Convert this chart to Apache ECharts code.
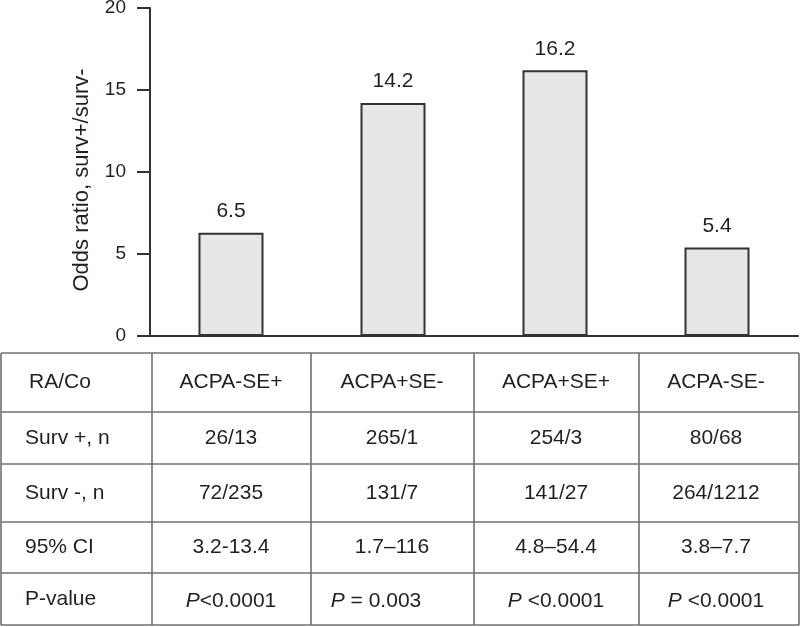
<!DOCTYPE html>
<html>
<head>
<meta charset="utf-8">
<script src="https://cdn.jsdelivr.net/npm/echarts@6/dist/echarts.min.js"></script>
<style>
  html, body { margin: 0; padding: 0; background: #fff; }
  #chart { width: 800px; height: 627px; }
</style>
</head>
<body>
<div id="chart"></div>
<script>
// ---- data ----
const categories = ['ACPA-SE+', 'ACPA+SE-', 'ACPA+SE+', 'ACPA-SE-'];
const oddsRatio = [6.3, 14.2, 16.2, 5.4];
const oddsLabels = ['6.5', '14.2', '16.2', '5.4'];
const yTicks = [0, 5, 10, 15, 20];
const rowHeaders = ['RA/Co', 'Surv +, n', 'Surv -, n', '95% CI', 'P-value'];
const survPos = ['26/13', '265/1', '254/3', '80/68'];
const survNeg = ['72/235', '131/7', '141/27', '264/1212'];
const ci95 = ['3.2-13.4', '1.7–116', '4.8–54.4', '3.8–7.7'];
const pValues = ['<0.0001', ' = 0.003', ' <0.0001', ' <0.0001'];

// ---- layout / style ----
const FONT = "'Liberation Sans', Arial, Helvetica, sans-serif";
const TXT = '#231f20';
const colX = [1, 152, 311, 474, 639, 799];
const rowY = [353, 412, 464, 522, 573, 625];
const colCenters = [231, 392, 556, 716];
const lineColor = '#707070';

const chart = echarts.init(document.getElementById('chart'), null, { renderer: 'canvas' });

const graphics = [];
// table lines
rowY.forEach(function (y) {
  graphics.push({ type: 'line', shape: { x1: colX[0], y1: y, x2: colX[colX.length - 1], y2: y },
    style: { stroke: lineColor, lineWidth: 1.6 }, silent: true });
});
colX.forEach(function (x) {
  graphics.push({ type: 'line', shape: { x1: x, y1: rowY[0], x2: x, y2: rowY[rowY.length - 1] },
    style: { stroke: lineColor, lineWidth: 1.6 }, silent: true });
});
// row headers
rowHeaders.forEach(function (h, r) {
  graphics.push({ type: 'text', x: r === 0 ? 29 : 25, y: (rowY[r] + rowY[r + 1]) / 2,
    style: { text: h, font: '21px ' + FONT, fill: TXT, textAlign: 'left', textVerticalAlign: 'middle' }, silent: true });
});
// table cells
const rows = [categories, survPos, survNeg, ci95];
rows.forEach(function (arr, r) {
  arr.forEach(function (t, c) {
    graphics.push({ type: 'text', x: colCenters[c], y: (rowY[r] + rowY[r + 1]) / 2,
      style: { text: t, font: '21px ' + FONT, fill: TXT, textAlign: 'center', textVerticalAlign: 'middle' }, silent: true });
  });
});
pValues.forEach(function (t, c) {
  graphics.push({ type: 'text', x: colCenters[c] - (c === 1 ? 16 : 0), y: (rowY[4] + rowY[5]) / 2 + 2,
    style: { text: '{i|P}{n|' + t + '}', textAlign: 'center', textVerticalAlign: 'middle',
      rich: { i: { font: 'italic 21px ' + FONT, fill: TXT }, n: { font: '21px ' + FONT, fill: TXT } } }, silent: true });
});

const option = {
  backgroundColor: '#ffffff',
  animation: false,
  grid: { left: 150, right: 2, top: 8, bottom: 291, outerBoundsMode: 'none' },
  xAxis: {
    type: 'category',
    data: categories,
    axisLine: { show: true, lineStyle: { color: '#333333', width: 2 } },
    axisTick: { show: false },
    axisLabel: { show: false },
    splitLine: { show: false }
  },
  yAxis: {
    type: 'value',
    min: yTicks[0],
    max: yTicks[yTicks.length - 1],
    interval: 5,
    name: 'Odds ratio, surv+/surv-',
    nameLocation: 'middle',
    nameGap: 57,
    nameTextStyle: { fontFamily: FONT, fontSize: 22, color: TXT, padding: [0, 16, 0, 0] },
    axisLine: { show: true, lineStyle: { color: '#333333', width: 2 } },
    axisTick: { show: true, inside: false, length: 13, lineStyle: { color: '#333333', width: 2 } },
    axisLabel: { margin: 24, fontFamily: FONT, fontSize: 19, color: TXT },
    splitLine: { show: false }
  },
  series: [{
    type: 'bar',
    data: oddsRatio,
    barWidth: 65,
    itemStyle: { color: '#e6e7e8', borderColor: '#333333', borderWidth: 2 },
    label: {
      show: true,
      position: 'top',
      distance: 11,
      fontFamily: FONT,
      fontSize: 21,
      color: TXT,
      formatter: function (p) { return oddsLabels[p.dataIndex]; }
    }
  }],
  graphic: graphics
};
chart.setOption(option);
</script>
</body>
</html>
